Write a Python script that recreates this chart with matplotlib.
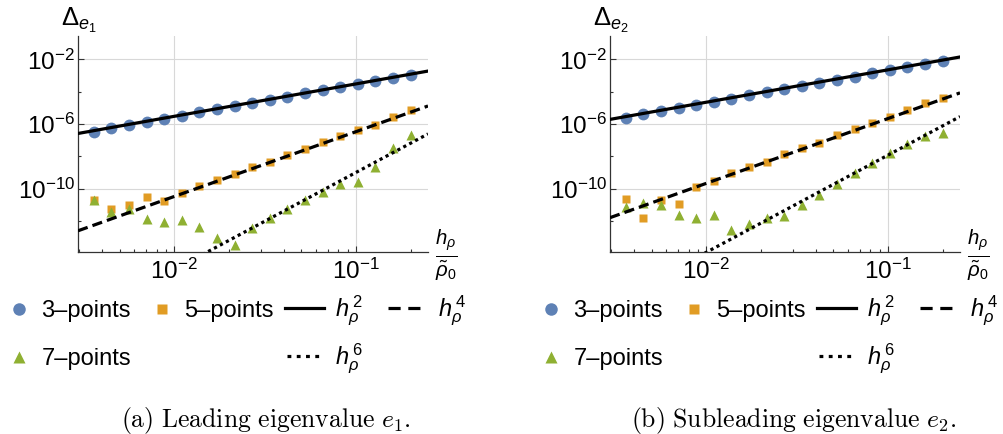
import numpy as np
import matplotlib.pyplot as plt
from matplotlib.lines import Line2D
from matplotlib.ticker import LogLocator, NullFormatter

W, H = 1004, 434
plt.rcParams['font.family'] = ['Liberation Sans', 'DejaVu Sans']
plt.rcParams['mathtext.fontset'] = 'custom'
plt.rcParams['mathtext.rm'] = 'Liberation Sans'
plt.rcParams['mathtext.it'] = 'Liberation Sans:italic'
plt.rcParams['mathtext.bf'] = 'Liberation Sans:bold'

BLUE = '#5e81b5'
ORANGE = '#e19c24'
GREEN = '#8fb032'

# grid spacing h_rho / rho_0
h = np.array([0.003603, 0.004504, 0.005629, 0.007037, 0.008796, 0.01100,
              0.01374, 0.01718, 0.02147, 0.02684, 0.03355, 0.04194,
              0.05243, 0.06554, 0.08192, 0.1024, 0.128, 0.16, 0.2])

# log10 of the errors
e1_3pt = 10.0 ** np.array([-6.46, -6.25, -6.05, -5.86, -5.66, -5.47, -5.27, -5.08,
                           -4.88, -4.69, -4.50, -4.30, -4.11, -3.92, -3.72, -3.53,
                           -3.34, -3.15, -2.96])
e1_5pt = 10.0 ** np.array([-10.66, -11.22, -10.99, -10.49, -10.72, -10.25, -9.83,
                           -9.48, -9.10, -8.68, -8.33, -7.92, -7.53, -7.13, -6.72,
                           -6.37, -6.04, -5.59, -5.13])
e1_7pt = 10.0 ** np.array([-10.68, -11.43, -11.27, -11.86, -12.04, -11.94, -12.33,
                           -13.04, -13.48, -12.39, -11.77, -11.22, -10.70, -10.19,
                           -9.67, -9.57, -8.64, -7.50, -6.68])

e2_3pt = 10.0 ** np.array([-5.62, -5.40, -5.20, -5.01, -4.81, -4.62, -4.42, -4.23,
                           -4.04, -3.84, -3.65, -3.45, -3.26, -3.07, -2.87, -2.68,
                           -2.49, -2.29, -2.10])
e2_5pt = 10.0 ** np.array([-10.60, -11.83, -10.66, -10.96, -9.87, -9.50, -9.05,
                           -8.68, -8.33, -7.86, -7.50, -7.16, -6.68, -6.33, -5.96,
                           -5.59, -5.13, -4.72, -4.37])
e2_7pt = 10.0 ** np.array([-11.13, -10.87, -11.01, -11.63, -11.77, -11.63, -12.53,
                           -12.14, -11.83, -11.69, -11.01, -10.39, -9.71, -9.05,
                           -8.43, -7.81, -7.24, -6.74, -6.54])

# fitted lines C * h^p, log10 C
powers = [2, 4, 6]
fit_e1 = [-1.52, -2.47, -2.99]
fit_e2 = [-0.65, -1.66, -1.92]

xlim = (10 ** -2.53, 10 ** -0.603)
ylim = (10 ** -13.9, 10 ** -0.56)

line_styles = [dict(ls='-'), dict(dashes=(3.2, 1.6)), dict(dashes=(1.0, 1.1))]

fig = plt.figure(figsize=(W / 100, H / 100), dpi=100)


def panel(left_px, e3, e5, e7, coefs, sub):
    ax = fig.add_axes([left_px / W, 1 - 252 / H, 350 / W, 216 / H])
    ax.set_xscale('log')
    ax.set_yscale('log')
    ax.plot(h, e3, 'o', color=BLUE, ms=8.5, mec='none', zorder=3)
    ax.plot(h, e5, 's', color=ORANGE, ms=6, mec='none', zorder=3)
    ax.plot(h, e7, '^', color=GREEN, ms=7.5, mec='none', zorder=3)
    hh = np.geomspace(xlim[0], xlim[1], 300)
    for p, c, st in zip(powers, coefs, line_styles):
        ax.plot(hh, 10 ** c * hh ** p, color='black', lw=2.3,
                dash_capstyle='butt', zorder=4, **st)
    ax.set_xlim(*xlim)
    ax.set_ylim(*ylim)

    ax.set_xticks([1e-2, 1e-1], labels=[r'$10^{-2}$', r'$10^{-1}$'])
    ax.xaxis.set_minor_locator(LogLocator(subs=np.arange(2, 10)))
    ax.xaxis.set_minor_formatter(NullFormatter())
    ax.set_yticks([1e-2, 1e-6, 1e-10],
                  labels=[r'$10^{-2}$', r'$10^{-6}$', r'$10^{-10}$'])
    ax.set_yticks([1e-4, 1e-8, 1e-12], minor=True)
    ax.yaxis.set_minor_formatter(NullFormatter())

    ax.grid(True, which='major', color='#d8d8d8', lw=0.8)
    ax.set_axisbelow(True)
    for s in ['top', 'right']:
        ax.spines[s].set_visible(False)
    for s in ['left', 'bottom']:
        ax.spines[s].set_color('#333333')
        ax.spines[s].set_linewidth(0.9)
    ax.tick_params(which='both', direction='in', color='#333333', width=0.8,
                   labelsize=17.5)
    ax.tick_params(which='major', length=4.5)
    ax.tick_params(which='minor', length=2.5)
    ax.tick_params(axis='x', pad=5)
    ax.tick_params(axis='y', pad=2)

    fig.text((left_px - 17) / W, 1 - 20 / H, r'$\Delta_{e_%s}$' % sub,
             fontsize=18.5, ha='left', va='center')
    fig.text((left_px + 368) / W, 1 - 255 / H, r'$\frac{h_\rho}{\tilde{\rho}_0}$',
             fontsize=21, ha='center', va='center')
    return ax


panel(78, e1_3pt, e1_5pt, e1_7pt, fit_e1, '1')
panel(610, e2_3pt, e2_5pt, e2_7pt, fit_e2, '2')

# legend entries
handles = [
    Line2D([], [], marker='o', ls='none', color=BLUE, ms=9, mec='none'),
    Line2D([], [], marker='s', ls='none', color=ORANGE, ms=6.5, mec='none'),
    Line2D([], [], color='black', lw=2.3),
    Line2D([], [], color='black', lw=2.3, dashes=(3.8, 2.4)),
    Line2D([], [], marker='^', ls='none', color=GREEN, ms=8, mec='none'),
    Line2D([], [], color='black', lw=2.3, dashes=(1.2, 1.7)),
]
labels = ['3–points', '5–points', r'$h_\rho^{\,2}$', r'$h_\rho^{\,4}$',
          '7–points', r'$h_\rho^{\,6}$']
# (x of handle left edge, row centre, text pad, handle length) relative to panel
entry_pos = [(-78, 311, 0.15, 1.6), (65, 311, 0.15, 1.6), (207, 311, 0.45, 1.65),
             (310, 311, 0.7, 1.4), (-78, 359, 0.15, 1.6), (209, 359, 0.5, 1.55)]

for left_px in [78, 610]:
    for hd, lb, (dx, y, pad, hl) in zip(handles, labels, entry_pos):
        fig.legend([hd], [lb], loc='center left',
                   bbox_to_anchor=((left_px + dx) / W, 1 - y / H),
                   frameon=False, borderpad=0, borderaxespad=0,
                   handlelength=hl, handletextpad=pad, fontsize=17)

fig.text(266 / W, 1 - 420 / H, r'$\mathrm{(a)\ Leading\ eigenvalue\ }e_1.$',
         math_fontfamily='cm', fontsize=18.5, ha='center', va='center')
fig.text(794 / W, 1 - 420 / H, r'$\mathrm{(b)\ Subleading\ eigenvalue\ }e_2.$',
         math_fontfamily='cm', fontsize=18.5, ha='center', va='center')

fig.savefig('out.png', dpi=100)
